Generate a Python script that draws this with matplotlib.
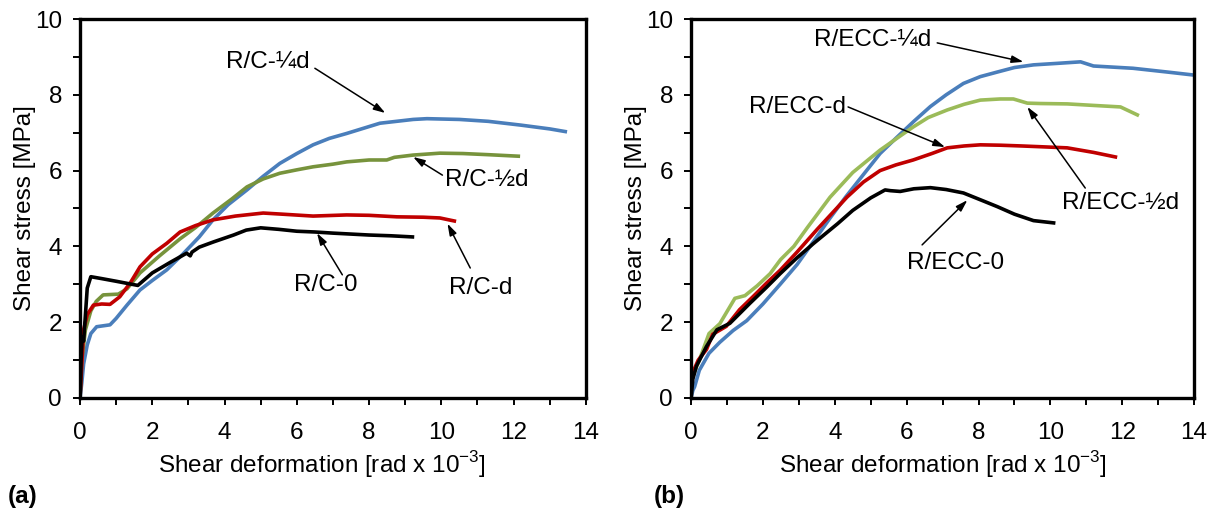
import matplotlib
matplotlib.use("Agg")
import matplotlib.pyplot as plt
from matplotlib.ticker import MultipleLocator

plt.rcParams['font.family'] = ['Liberation Sans', 'DejaVu Sans']
plt.rcParams['mathtext.fontset'] = 'custom'
plt.rcParams['mathtext.rm'] = 'Liberation Sans'

# ---- (a) R/C specimens ----
rc0_x = [0, 0.03, 0.06, 0.1, 0.2, 0.3, 0.6, 1.0, 1.6, 2.0, 2.5, 2.95, 3.05, 3.1, 3.3, 3.7,
         4.25, 4.6, 5.0, 5.5, 6.0, 6.5, 7.0, 7.4, 8.0, 8.6, 9.2]
rc0_y = [0, 1.0, 1.6, 1.5, 2.9, 3.2, 3.15, 3.08, 2.97, 3.3, 3.58, 3.82, 3.75, 3.85, 3.98, 4.12,
         4.3, 4.43, 4.49, 4.45, 4.4, 4.38, 4.35, 4.33, 4.3, 4.28, 4.25]

rcd_x = [0, 0.05, 0.1, 0.2, 0.37, 0.6, 0.83, 1.1, 1.4, 1.66, 2.0, 2.4, 2.77, 3.2, 3.68, 4.3,
         5.07, 5.6, 6.45, 7.38, 8.0, 8.77, 9.5, 9.96, 10.36]
rcd_y = [0, 0.9, 1.8, 2.2, 2.45, 2.48, 2.47, 2.67, 3.05, 3.46, 3.8, 4.08, 4.38, 4.55, 4.7, 4.8,
         4.88, 4.85, 4.8, 4.83, 4.82, 4.78, 4.77, 4.75, 4.67]

rch_x = [0, 0.05, 0.15, 0.3, 0.45, 0.64, 1.06, 1.3, 1.66, 2.2, 2.77, 3.2, 3.68, 4.2, 4.62,
         5.07, 5.53, 6.0, 6.45, 7.0, 7.38, 8.0, 8.49, 8.7, 9.22, 9.96, 10.6, 11.3, 12.13]
rch_y = [0, 1.0, 1.8, 2.3, 2.55, 2.72, 2.74, 2.88, 3.3, 3.75, 4.2, 4.5, 4.88, 5.25, 5.57,
         5.78, 5.93, 6.02, 6.1, 6.17, 6.23, 6.28, 6.28, 6.35, 6.41, 6.46, 6.45, 6.42, 6.38]

rcq_x = [0, 0.05, 0.1, 0.2, 0.3, 0.46, 0.83, 1.0, 1.3, 1.66, 2.0, 2.4, 2.85, 3.3, 3.68, 4.1,
         4.62, 5.07, 5.53, 6.0, 6.45, 6.9, 7.38, 8.3, 9.22, 9.6, 10.5, 11.3, 12.2, 13.0, 13.43]
rcq_y = [0, 0.4, 0.9, 1.4, 1.7, 1.88, 1.93, 2.1, 2.45, 2.85, 3.1, 3.38, 3.8, 4.25, 4.7, 5.1,
         5.49, 5.85, 6.19, 6.45, 6.68, 6.85, 6.98, 7.25, 7.35, 7.37, 7.35, 7.3, 7.2, 7.1, 7.03]

# ---- (b) R/ECC specimens ----
ecc0_x = [0, 0.05, 0.15, 0.43, 0.72, 1.08, 1.64, 2.1, 2.48, 2.95, 3.4, 4.08, 4.5, 5.0, 5.4,
          5.55, 5.82, 6.2, 6.66, 7.1, 7.58, 8.13, 8.52, 9.0, 9.53, 10.09]
ecc0_y = [0, 0.5, 0.84, 1.36, 1.8, 1.97, 2.5, 2.92, 3.28, 3.7, 4.07, 4.6, 4.95, 5.28, 5.49,
          5.47, 5.45, 5.52, 5.55, 5.5, 5.41, 5.2, 5.05, 4.85, 4.68, 4.62]

eccd_x = [0, 0.05, 0.2, 0.43, 0.6, 0.98, 1.35, 1.72, 2.1, 2.48, 2.95, 3.51, 4.34, 4.8, 5.26,
          5.7, 6.18, 6.7, 7.13, 7.6, 8.05, 8.6, 9.2, 9.72, 10.47, 11.2, 11.81]
eccd_y = [0.5, 0.68, 1.0, 1.28, 1.68, 1.89, 2.33, 2.67, 3.03, 3.37, 3.85, 4.45, 5.3, 5.7, 6.0,
          6.15, 6.28, 6.45, 6.6, 6.65, 6.68, 6.67, 6.65, 6.63, 6.6, 6.48, 6.36]

ecch_x = [0, 0.1, 0.23, 0.5, 0.8, 1.22, 1.5, 1.84, 2.2, 2.49, 2.86, 3.24, 3.87, 4.5, 5.26,
          5.8, 6.18, 6.6, 7.13, 7.6, 8.05, 8.6, 8.97, 9.36, 9.72, 10.47, 11.2, 11.95, 12.42]
ecch_y = [0.4, 0.7, 1.0, 1.7, 1.96, 2.63, 2.7, 2.96, 3.28, 3.65, 4.0, 4.5, 5.3, 5.95, 6.54,
          6.9, 7.15, 7.4, 7.6, 7.75, 7.86, 7.89, 7.89, 7.78, 7.77, 7.76, 7.72, 7.68, 7.47]

eccq_x = [0, 0.05, 0.1, 0.23, 0.5, 0.8, 1.17, 1.55, 2.0, 2.48, 2.95, 3.4, 3.87, 4.3, 4.8,
          5.26, 5.73, 6.2, 6.66, 7.1, 7.58, 8.05, 8.52, 9.0, 9.53, 10.2, 10.84, 11.2, 12.3, 13.26, 14.0]
eccq_y = [0, 0.2, 0.3, 0.73, 1.18, 1.47, 1.78, 2.04, 2.48, 3.0, 3.52, 4.12, 4.75, 5.3, 5.9,
          6.45, 6.88, 7.3, 7.69, 8.0, 8.3, 8.48, 8.6, 8.72, 8.79, 8.83, 8.87, 8.76, 8.7, 8.6, 8.52]

BLUE = "#4a7ebb"
RED = "#c00000"
GREEN_A = "#77933c"
GREEN_B = "#9bbb59"
FS = 17.5

fig = plt.figure(figsize=(12.16, 5.18), dpi=100)
ax1 = fig.add_axes([0.0658, 0.2317, 0.416, 0.7316])
ax2 = fig.add_axes([0.5683, 0.2317, 0.4137, 0.7316])

lw = 2.6
ax1.plot(rcq_x, rcq_y, color=BLUE, lw=lw)
ax1.plot(rch_x, rch_y, color=GREEN_A, lw=lw)
ax1.plot(rcd_x, rcd_y, color=RED, lw=lw)
ax1.plot(rc0_x, rc0_y, color="black", lw=lw)

ax2.plot(eccq_x, eccq_y, color=BLUE, lw=lw)
ax2.plot(ecch_x, ecch_y, color=GREEN_B, lw=lw)
ax2.plot(eccd_x, eccd_y, color=RED, lw=lw)
ax2.plot(ecc0_x, ecc0_y, color="black", lw=lw)

for ax in (ax1, ax2):
    ax.set_xlim(0, 14)
    ax.set_ylim(0, 10)
    ax.xaxis.set_major_locator(MultipleLocator(2))
    ax.xaxis.set_minor_locator(MultipleLocator(1))
    ax.yaxis.set_major_locator(MultipleLocator(2))
    ax.yaxis.set_minor_locator(MultipleLocator(1))
    ax.tick_params(which="both", direction="out", width=1.4, length=5)
    ax.tick_params(axis="x", which="major", labelsize=FS, pad=12)
    ax.tick_params(axis="y", which="major", labelsize=FS, pad=8)
    for s in ax.spines.values():
        s.set_linewidth(2.4)
    ax.set_xlabel(r"Shear deformation [rad x 10$^{\mathregular{-3}}$]", fontsize=FS, labelpad=4)
    ax.set_ylabel("Shear stress [MPa]", fontsize=FS, labelpad=-1)

ax1.xaxis.set_label_coords(0.478, -0.135)
ax2.xaxis.set_label_coords(0.5, -0.135)

arrow = dict(arrowstyle="-|>,head_length=0.7,head_width=0.22", color="black", lw=1.1,
             shrinkA=0, shrinkB=0)

def label(ax, text, txy, tail, head):
    ax.text(txy[0], txy[1], text, fontsize=FS, ha="center", va="center")
    ax.annotate("", xy=head, xytext=tail, arrowprops=arrow)

label(ax1, "R/C-¼d", (5.2, 8.87), (6.5, 8.7), (8.45, 7.52))
label(ax1, "R/C-½d", (11.27, 5.75), (10.03, 5.88), (9.22, 6.36))
label(ax1, "R/C-0", (6.79, 2.98), (7.26, 3.25), (6.56, 4.35))
label(ax1, "R/C-d", (11.08, 2.9), (10.8, 3.43), (10.17, 4.6))

label(ax2, "R/ECC-¼d", (5.04, 9.45), (6.85, 9.37), (9.25, 8.87))
label(ax2, "R/ECC-d", (2.95, 7.68), (4.37, 7.68), (7.07, 6.62))
label(ax2, "R/ECC-½d", (11.95, 5.14), (10.97, 5.54), (9.36, 7.68))
label(ax2, "R/ECC-0", (7.35, 3.56), (6.43, 4.04), (7.69, 5.22))

fig.text(0.0066, 0.042, "(a)", fontsize=FS, fontweight="bold", va="center")
fig.text(0.538, 0.042, "(b)", fontsize=FS, fontweight="bold", va="center")

fig.savefig("out.png", dpi=100)
